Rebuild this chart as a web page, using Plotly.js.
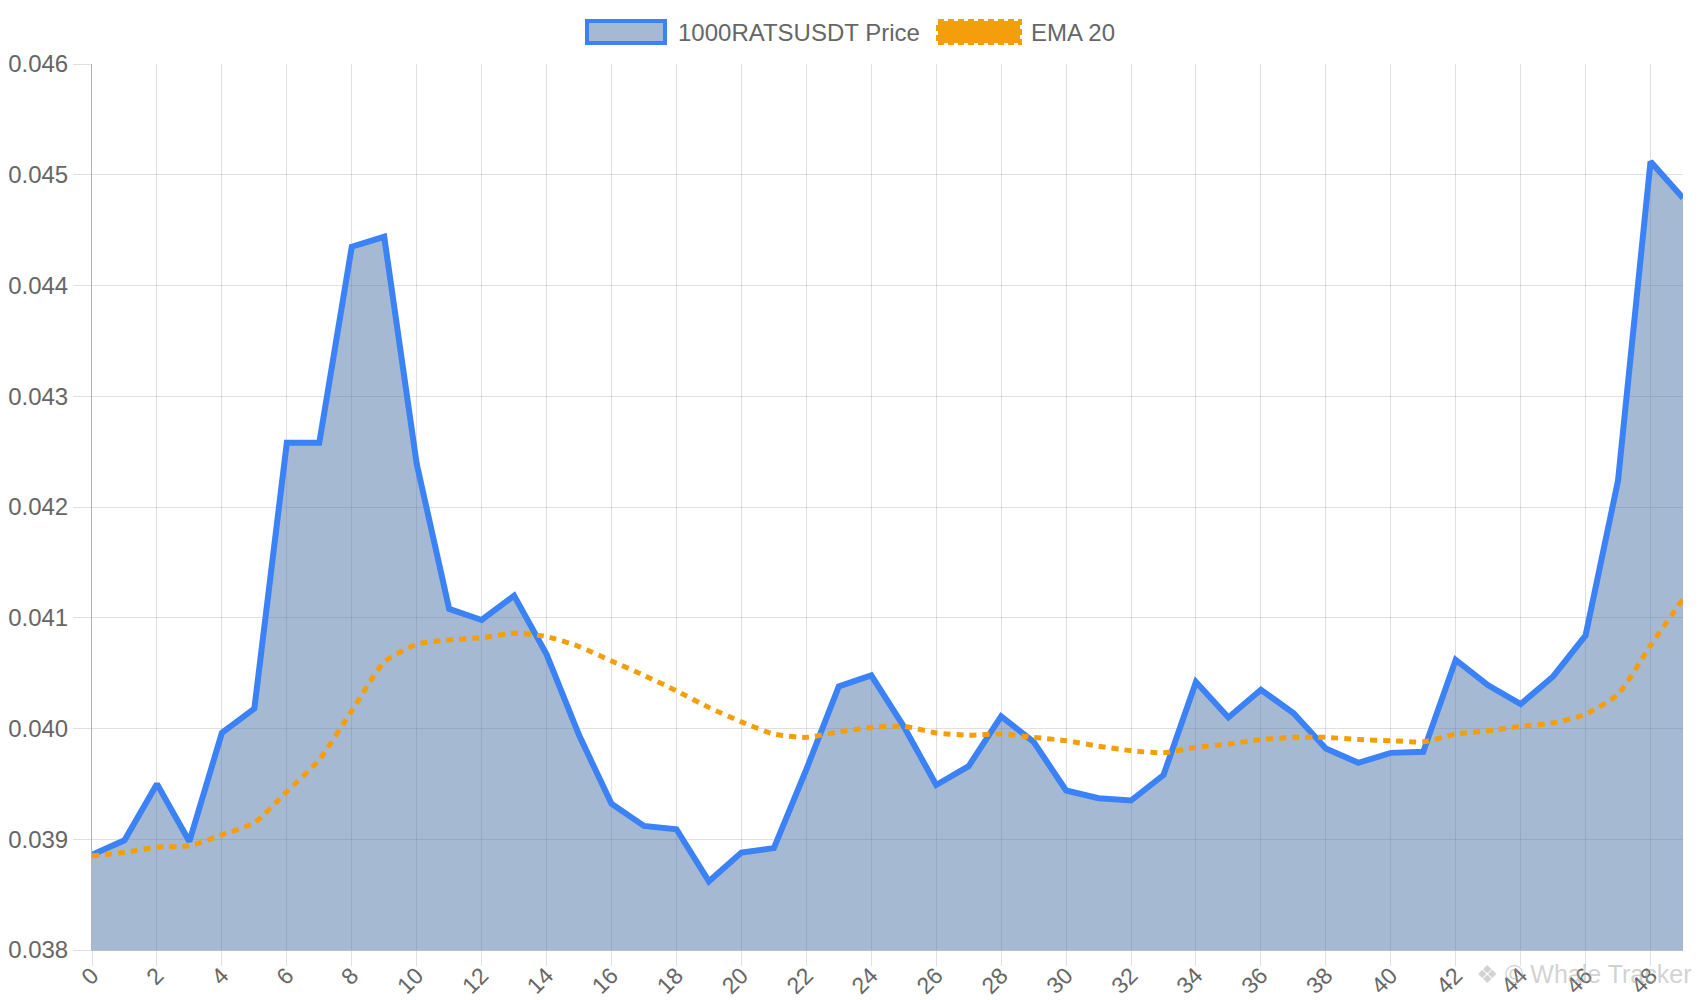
<!DOCTYPE html>
<html>
<head>
<meta charset="utf-8">
<script src="https://cdn.plot.ly/plotly-3.0.1.min.js"></script>
<style>
  html, body { margin: 0; padding: 0; background: #fff; }
  #chart { width: 1700px; height: 1000px; }
</style>
</head>
<body>
<div id="chart"></div>
<script>
// candle index along the x axis
var steps = [];
for (let i = 0; i < 50; i++) {
    steps.push(i)
}

var priceValues = [
    0.03886, 0.03899, 0.03950, 0.03898, 0.03996, 0.04018, 0.04258, 0.04258, 0.04435, 0.04444,
    0.04239, 0.04108, 0.04098, 0.04120, 0.04067, 0.03994, 0.03932, 0.03912, 0.03909, 0.03862,
    0.03888, 0.03892, 0.03963, 0.04038, 0.04048, 0.04002, 0.03949, 0.03966, 0.04011, 0.03988,
    0.03944, 0.03937, 0.03935, 0.03958, 0.04042, 0.04010, 0.04035, 0.04014, 0.03982, 0.03969,
    0.03978, 0.03979, 0.04062, 0.04039, 0.04022, 0.04047, 0.04084, 0.04224, 0.04512, 0.04479
];

var emaValues = [
    0.03885, 0.03888, 0.03893, 0.03894, 0.03904, 0.03915, 0.03943, 0.03972, 0.04016, 0.04060,
    0.04076, 0.04080, 0.04082, 0.04086, 0.04083, 0.04074, 0.04061, 0.04048, 0.04034, 0.04019,
    0.04006, 0.03995, 0.03992, 0.03997, 0.04001, 0.04002, 0.03996, 0.03994, 0.03995, 0.03992,
    0.03989, 0.03984, 0.03980, 0.03978, 0.03983, 0.03986, 0.03990, 0.03992, 0.03992, 0.03990,
    0.03989, 0.03988, 0.03995, 0.03998, 0.04002, 0.04005, 0.04013, 0.04031, 0.04075, 0.04117
];

var seriesNames = ['1000RATSUSDT Price', 'EMA 20'];

var tickLabels = [];
for (let i = 0; i < steps.length; i += 2) {
    tickLabels.push(String(steps[i]))
}

var priceLine = '#3b82f6',
    priceFill = 'rgba(77,115,166,0.5)',
    emaLine = '#f59e0b',
    gridColor = 'rgba(0,0,0,0.12)',
    textColor = '#666666';

var price_plot = {
    x: steps,
    y: priceValues,
    type: 'scatter',
    mode: 'lines',
    name: seriesNames[0],
    fill: 'tozeroy',
    fillcolor: priceFill,
    line: {
        color: priceLine,
        width: 6
    }
};

var ema_plot = {
    x: steps,
    y: emaValues,
    type: 'scatter',
    mode: 'lines',
    name: seriesNames[1],
    line: {
        color: emaLine,
        width: 5,
        dash: '7px,6px',
        shape: 'spline',
        smoothing: 0.6
    }
};

// legend drawn by hand, boxes like the original chart
// (offsets in pixels from the plot's top-left corner)
var legendShapes = [{
    type: 'rect',
    xref: 'paper', yref: 'paper',
    xsizemode: 'pixel', ysizemode: 'pixel',
    xanchor: 0, yanchor: 1,
    x0: 495, x1: 573, y0: 21, y1: 43,
    fillcolor: priceFill,
    line: { color: priceLine, width: 4 }
}, {
    type: 'rect',
    xref: 'paper', yref: 'paper',
    xsizemode: 'pixel', ysizemode: 'pixel',
    xanchor: 0, yanchor: 1,
    x0: 846, x1: 928, y0: 21, y1: 43,
    fillcolor: emaLine,
    line: { color: emaLine, width: 4, dash: '6px,4px' }
}];

var legendTexts = [{
    text: seriesNames[0],
    xref: 'paper', yref: 'paper',
    x: 0, y: 1,
    xshift: 584, yshift: 32,
    xanchor: 'left', yanchor: 'middle',
    showarrow: false,
    font: { size: 24, color: textColor }
}, {
    text: seriesNames[1],
    xref: 'paper', yref: 'paper',
    x: 0, y: 1,
    xshift: 937, yshift: 32,
    xanchor: 'left', yanchor: 'middle',
    showarrow: false,
    font: { size: 24, color: textColor }
}, {
    text: '❖ © Whale Tracker',
    xref: 'paper', yref: 'paper',
    x: 1, y: 0,
    xshift: 10, yshift: -24,
    xanchor: 'right', yanchor: 'middle',
    showarrow: false,
    font: { size: 25, color: 'rgba(165,165,165,0.5)' }
}];

var layout = {
    width: 1700,
    height: 1000,
    paper_bgcolor: '#ffffff',
    plot_bgcolor: '#ffffff',
    margin: { l: 92, r: 17, t: 64, b: 50 },
    font: {
        family: 'Liberation Sans, Arial, sans-serif',
        size: 24,
        color: textColor
    },
    showlegend: false,
    xaxis: {
        range: [0, 49],
        tickmode: 'array',
        tickvals: tickLabels.map(Number),
        ticktext: tickLabels,
        tickangle: -45,
        tickfont: { size: 23, color: textColor },
        showgrid: true,
        gridcolor: gridColor,
        gridwidth: 1,
        ticks: 'outside',
        ticklen: 15,
        tickcolor: gridColor,
        ticklabelstandoff: -13,
        showline: true,
        linecolor: 'rgba(0,0,0,0.25)',
        zeroline: false,
        automargin: false,
        fixedrange: true
    },
    yaxis: {
        range: [0.038, 0.046],
        dtick: 0.001,
        tick0: 0.038,
        tickformat: '.3f',
        tickfont: { size: 24, color: textColor },
        showgrid: true,
        gridcolor: gridColor,
        gridwidth: 1,
        ticks: 'outside',
        ticklen: 18,
        tickcolor: gridColor,
        showline: true,
        linecolor: 'rgba(0,0,0,0.3)',
        zeroline: false,
        automargin: false,
        fixedrange: true
    },
    shapes: legendShapes,
    annotations: legendTexts
};

Plotly.newPlot('chart', [price_plot, ema_plot], layout, { displayModeBar: false, staticPlot: true })
</script>
</body>
</html>
